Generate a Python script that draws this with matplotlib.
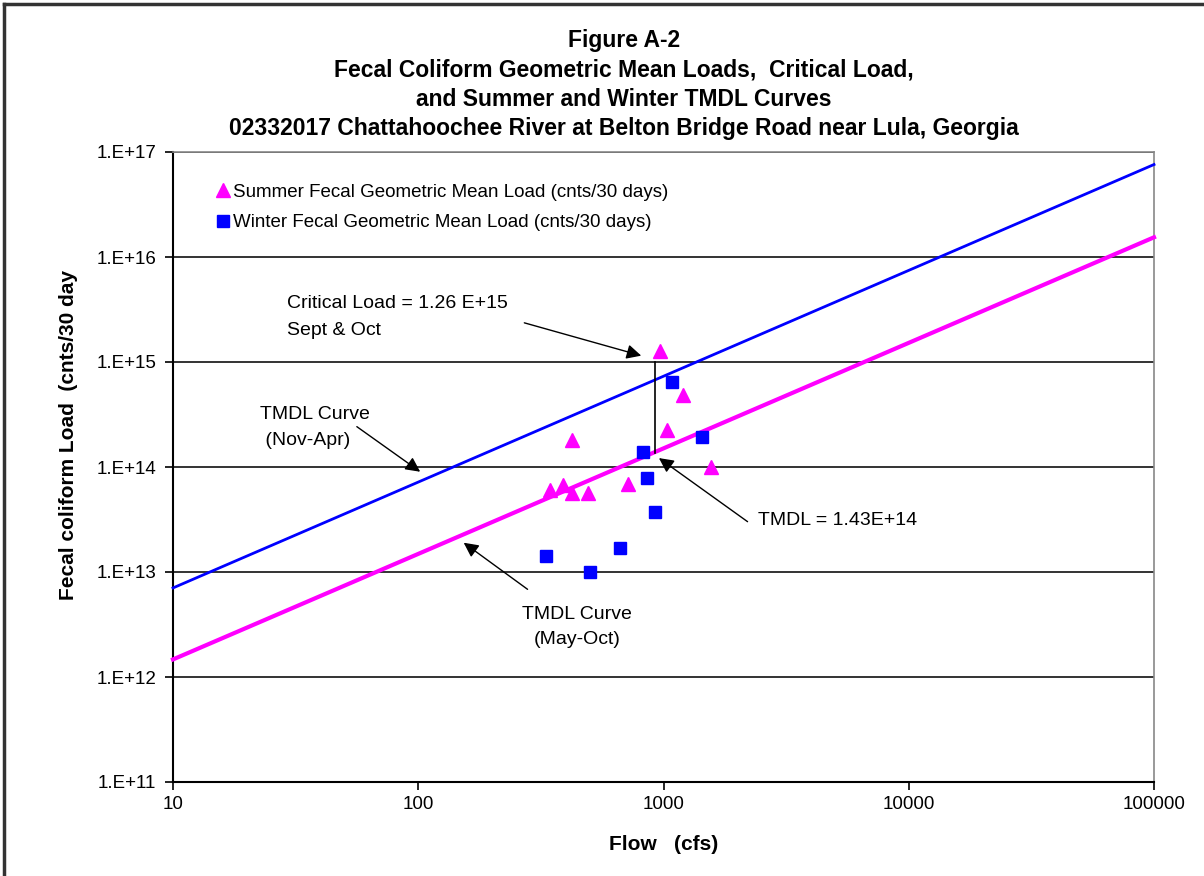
import matplotlib
matplotlib.use("Agg")
import matplotlib.pyplot as plt
from matplotlib.lines import Line2D
from matplotlib.ticker import FixedLocator, NullLocator

title_lines = ["Figure A-2",
               "Fecal Coliform Geometric Mean Loads,  Critical Load,",
               "and Summer and Winter TMDL Curves",
               "02332017 Chattahoochee River at Belton Bridge Road near Lula, Georgia"]

# summer geometric mean loads (triangles)
summer_flow = [972, 1202, 1029, 424, 1560, 346, 390, 424, 491, 715]
summer_load = [1.26e15, 4.8e14, 2.25e14, 1.81e14, 1.0e14, 6.0e13, 6.7e13, 5.6e13, 5.6e13, 6.9e13]

# winter geometric mean loads (squares)
winter_flow = [1084, 1429, 826, 860, 924, 663, 331, 502]
winter_load = [6.4e14, 1.95e14, 1.39e14, 7.8e13, 3.7e13, 1.7e13, 1.42e13, 9.9e12]

# TMDL curves (end points)
curve_flow = [10, 100000]
winter_curve = [7.05e12, 7.6e16]
summer_curve = [1.47e12, 1.54e16]

# critical flow marker
crit_flow = [920, 920]
crit_load = [1.35e14, 1.0e15]

yticks = [1e11, 1e12, 1e13, 1e14, 1e15, 1e16, 1e17]
ytick_labels = ["1.E+11", "1.E+12", "1.E+13", "1.E+14", "1.E+15", "1.E+16", "1.E+17"]
xticks = [10, 100, 1000, 10000, 100000]
xtick_labels = ["10", "100", "1000", "10000", "100000"]

plt.rcParams['font.family'] = ["Liberation Sans", "DejaVu Sans"]

fig = plt.figure(figsize=(12.04, 8.76), dpi=100)
W, H = 1204.0, 876.0
ax = fig.add_axes([173 / W, 1 - 782 / H, (1154 - 173) / W, (782 - 152) / H])
ax.set_xscale("log")
ax.set_yscale("log")
ax.set_xlim(10, 100000)
ax.set_ylim(1e11, 1e17)

ax.yaxis.set_major_locator(FixedLocator(yticks))
ax.set_yticklabels(ytick_labels, fontsize=13.5)
ax.xaxis.set_major_locator(FixedLocator(xticks))
ax.set_xticklabels(xtick_labels, fontsize=13.5)
ax.xaxis.set_minor_locator(NullLocator())
ax.yaxis.set_minor_locator(NullLocator())
ax.tick_params(axis="both", direction="out", length=6, width=1.2, color="black", pad=4)
ax.tick_params(axis="y", pad=6)
ax.grid(True, axis="y", color="#333333", linewidth=1.4)
ax.set_axisbelow(True)
for s in ["left", "bottom"]:
    ax.spines[s].set_color("black")
    ax.spines[s].set_linewidth(1.5)
for s in ["top", "right"]:
    ax.spines[s].set_color("#888888")
    ax.spines[s].set_linewidth(1.2)

ax.plot(curve_flow, winter_curve, color="#0000FF", linewidth=2.0, clip_on=False, zorder=3)
ax.plot(curve_flow, summer_curve, color="#FF00FF", linewidth=3.0, clip_on=False, zorder=3)
ax.plot(crit_flow, crit_load, color="black", linewidth=1.2, zorder=3)

ax.plot(summer_flow, summer_load, linestyle="none", marker="^", markersize=10,
        color="#FF00FF", label="Summer Fecal Geometric Mean Load (cnts/30 days)", zorder=4)
ax.plot(winter_flow, winter_load, linestyle="none", marker="s", markersize=8.5,
        color="#0000FF", label="Winter Fecal Geometric Mean Load (cnts/30 days)", zorder=4)

ax.legend(loc="upper left", bbox_to_anchor=(0.043, 0.950), frameon=False, fontsize=13.5,
          handlelength=0.8, handletextpad=0.15, labelspacing=0.71, borderpad=0, borderaxespad=0)

ax.set_xlabel("Flow   (cfs)", fontsize=15, fontweight="bold", labelpad=16)
ax.set_ylabel("Fecal coliform Load  (cnts/30 day", fontsize=15, fontweight="bold")
ax.yaxis.set_label_coords(-0.097, 0.55)

arrow = dict(arrowstyle="-|>", color="black", lw=1.0, mutation_scale=22)
ax.text(29.1, 2.67e15, "Critical Load = 1.26 E+15\nSept & Oct", fontsize=14, va="center",
        ha="left", linespacing=1.75)
ax.annotate("", xy=(832, 1.13e15), xytext=(264, 2.4e15), arrowprops=arrow)

ax.text(22.6, 2.38e14, "TMDL Curve\n (Nov-Apr)", fontsize=14, va="center", ha="left",
        linespacing=1.75)
ax.annotate("", xy=(104, 8.7e13), xytext=(55, 2.51e14), arrowprops=arrow)

ax.text(2424, 3.06e13, "TMDL = 1.43E+14", fontsize=14, va="center", ha="left")
ax.annotate("", xy=(938, 1.26e14), xytext=(2249, 2.91e13), arrowprops=arrow)

ax.text(443, 3.0e12, "TMDL Curve\n(May-Oct)", fontsize=14, va="center", ha="center",
        linespacing=1.6)
ax.annotate("", xy=(150, 1.97e13), xytext=(285, 6.6e12), arrowprops=arrow)

title_y = [40, 70, 99, 128]
for line, yp in zip(title_lines, title_y):
    fig.text(624 / W, 1 - yp / H, line, ha="center", va="center", fontsize=16.5,
             fontweight="bold")

# outer frame of the chart
fig.add_artist(Line2D([4 / W, 4 / W], [0, 1 - 4 / H], color="#333333", linewidth=2.5))
fig.add_artist(Line2D([4 / W, 1], [1 - 4 / H, 1 - 4 / H], color="#333333", linewidth=2.5))

fig.savefig("out.png", dpi=100)
